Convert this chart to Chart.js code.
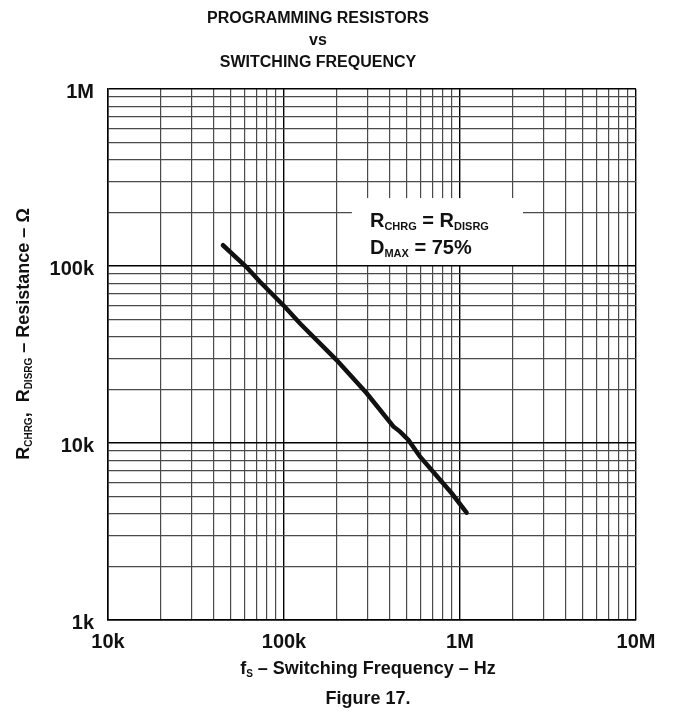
<!DOCTYPE html>
<html>
<head>
<meta charset="utf-8">
<script src="https://cdn.jsdelivr.net/npm/chart.js@4.4.1/dist/chart.umd.min.js"></script>
<style>
  html, body { margin: 0; padding: 0; background: #fff; }
  #c { display: block; }
</style>
</head>
<body>
<canvas id="c" width="676" height="727"></canvas>
<script>
// programming resistor value vs switching frequency (RCHRG = RDISRG, DMAX = 75%)
const freqHz = [45e3, 61e3, 73e3, 101e3, 123e3, 199e3, 295e3, 418e3, 456e3, 509e3, 593e3, 897e3, 1090e3];
const resOhm = [131e3, 99e3, 81.5e3, 58.9e3, 47.5e3, 29.4e3, 19.1e3, 12.4e3, 11.6e3, 10.4e3, 8.37e3, 5.2e3, 4.04e3];

const xDecades = [1e4, 1e5, 1e6, 1e7];
const xDecadeLabels = ['10k', '100k', '1M', '10M'];
const yDecades = [1e3, 1e4, 1e5, 1e6];
const yDecadeLabels = ['1k', '10k', '100k', '1M'];

const titleLines = ['PROGRAMMING RESISTORS', 'vs', 'SWITCHING FREQUENCY'];
// rich text: [text, subscript?]
const noteLine1 = [['R', 0], ['CHRG', 1], [' = R', 0], ['DISRG', 1]];
const noteLine2 = [['D', 0], ['MAX', 1], [' = 75%', 0]];
const yTitle = [['R', 0], ['CHRG', 1], [',  R', 0], ['DISRG', 1], [' \u2013 Resistance \u2013 \u03A9', 0]];
const xTitle = [['f', 0], ['S', 1], [' \u2013 Switching Frequency \u2013 Hz', 0]];
const caption = 'Figure 17.';

const FONT = '"Liberation Sans", Arial, Helvetica, sans-serif';

// 1..9 x 10^n grid positions between first and last decade
function logGrid(decades) {
  const out = [];
  for (let i = 0; i < decades.length - 1; i++) {
    for (let m = 1; m < 10; m++) out.push(decades[i] * m);
  }
  out.push(decades[decades.length - 1]);
  return out;
}

function drawRich(ctx, segs, x, y, align, size) {
  const sub = Math.round(size * 0.55);
  const font = s => 'bold ' + s + 'px ' + FONT;
  let w = 0;
  segs.forEach(([t, s]) => { ctx.font = font(s ? sub : size); w += ctx.measureText(t).width; });
  let cx = align === 'center' ? x - w / 2 : x;
  ctx.textAlign = 'left';
  ctx.textBaseline = 'alphabetic';
  segs.forEach(([t, s]) => {
    ctx.font = font(s ? sub : size);
    ctx.fillText(t, cx, s ? y + 3 : y);
    cx += ctx.measureText(t).width;
  });
}

const isDecade = (v, decs) => decs.some(d => Math.abs(v - d) / d < 1e-6);

const textPlugin = {
  id: 'extraText',
  beforeDatasetsDraw(chart) {
    const { ctx, scales: { x, y } } = chart;
    // note box knocks out the grid behind the conditions
    const bx0 = x.getPixelForValue(2.43e5), bx1 = x.getPixelForValue(2.28e6);
    const by0 = y.getPixelForValue(2.42e5), by1 = y.getPixelForValue(1e5);
    ctx.save();
    ctx.fillStyle = '#fff';
    ctx.fillRect(bx0, by0, bx1 - bx0, by1 - by0 - 1);
    ctx.fillStyle = '#111';
    const tx = x.getPixelForValue(3.08e5);
    drawRich(ctx, noteLine1, tx, by0 + 29, 'left', 20);
    drawRich(ctx, noteLine2, tx, by0 + 56, 'left', 20);
    ctx.restore();
  },
  afterDraw(chart) {
    const { ctx, chartArea } = chart;
    const mid = (chartArea.left + chartArea.right) / 2 - 4;
    ctx.save();
    ctx.fillStyle = '#111';
    drawRich(ctx, xTitle, mid, 674, 'center', 18);
    ctx.font = 'bold 18px ' + FONT;
    ctx.textAlign = 'center';
    ctx.fillText(caption, mid, 704);
    ctx.translate(29, 334);
    ctx.rotate(-Math.PI / 2);
    drawRich(ctx, yTitle, 0, 0, 'center', 18);
    ctx.restore();
  }
};

new Chart(document.getElementById('c').getContext('2d'), {
  type: 'line',
  data: {
    datasets: [{
      data: freqHz.map((f, i) => ({ x: f, y: resOhm[i] })),
      borderColor: '#111',
      borderWidth: 4.5,
      pointRadius: 0,
      tension: 0,
      borderCapStyle: 'round'
    }]
  },
  options: {
    responsive: false,
    animation: false,
    layout: { padding: { left: 0, right: 40, top: 0, bottom: 0 } },
    plugins: {
      legend: { display: false },
      tooltip: { enabled: false },
      title: {
        display: true,
        text: titleLines,
        color: '#111',
        font: { family: FONT, size: 16, weight: 'bold', lineHeight: 1.375 },
        padding: { top: 8, bottom: 15 }
      }
    },
    scales: {
      x: {
        type: 'logarithmic',
        min: xDecades[0],
        max: xDecades[xDecades.length - 1],
        afterBuildTicks: s => { s.ticks = logGrid(xDecades).map(v => ({ value: v })); },
        afterFit: s => { s.height = 107; },
        ticks: {
          autoSkip: false,
          maxRotation: 0,
          padding: 10,
          color: '#111',
          font: { family: FONT, size: 20, weight: 'bold' },
          callback: v => { const i = xDecades.findIndex(d => Math.abs(v - d) / d < 1e-6); return i < 0 ? '' : xDecadeLabels[i]; }
        },
        grid: {
          drawTicks: false,
          color: c => isDecade(c.tick.value, xDecades) ? '#000' : '#4a4a4a',
          lineWidth: c => isDecade(c.tick.value, xDecades) ? 1.4 : 1.2
        },
        border: { color: '#000', width: 1.5 }
      },
      y: {
        type: 'logarithmic',
        min: yDecades[0],
        max: yDecades[yDecades.length - 1],
        afterBuildTicks: s => { s.ticks = logGrid(yDecades).map(v => ({ value: v })); },
        afterFit: s => { s.width = 108; },
        ticks: {
          autoSkip: false,
          padding: 14,
          labelOffset: 3,
          color: '#111',
          font: { family: FONT, size: 20, weight: 'bold' },
          callback: v => { const i = yDecades.findIndex(d => Math.abs(v - d) / d < 1e-6); return i < 0 ? '' : yDecadeLabels[i]; }
        },
        grid: {
          drawTicks: false,
          color: c => isDecade(c.tick.value, yDecades) ? '#000' : '#4a4a4a',
          lineWidth: c => isDecade(c.tick.value, yDecades) ? 1.4 : 1.2
        },
        border: { color: '#000', width: 1.5 }
      }
    }
  },
  plugins: [textPlugin]
});
</script>
</body>
</html>
